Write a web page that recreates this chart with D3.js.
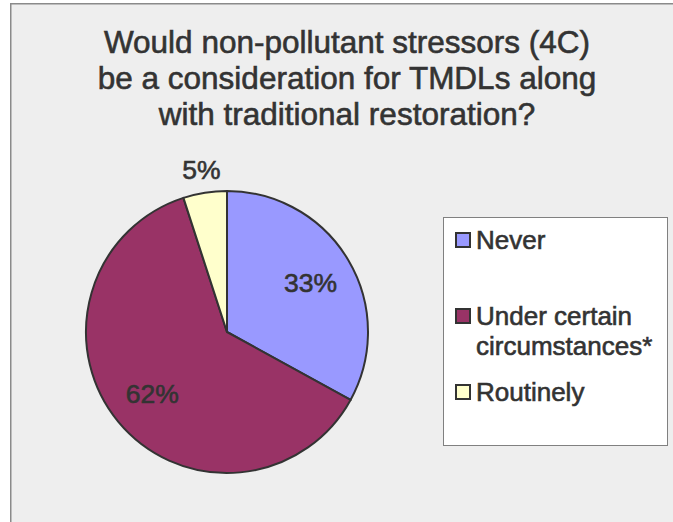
<!DOCTYPE html>
<html>
<head>
<meta charset="utf-8">
<script src="https://cdn.jsdelivr.net/npm/d3@7"></script>
<style>
  html, body { margin: 0; padding: 0; background: #ffffff; }
  svg { display: block; }
  text { font-family: "Liberation Sans", Arial, sans-serif; fill: #333333; stroke: #333333; stroke-width: 0.6px; }
</style>
</head>
<body>
<svg id="chart" width="673" height="522"></svg>
<script>
// Survey responses (percent of respondents)
const categories = ["Never", "Under certain circumstances*", "Routinely"];
const values = [33, 62, 5];
const legendLines = [["Never"], ["Under certain", "circumstances*"], ["Routinely"]];
const sliceColors = ["#9999FF", "#993366", "#FFFFCC"];
const titleLines = [
  "Would non-pollutant stressors (4C)",
  "be a consideration for TMDLs along",
  "with traditional restoration?"
];

const svg = d3.select("#chart");

// Chart area: light gray panel with a thin border
svg.append("rect")
  .attr("x", 10.75).attr("y", 3.75)
  .attr("width", 700).attr("height", 560)
  .attr("fill", "#EEEEEE")
  .attr("stroke", "#8a8a8a")
  .attr("stroke-width", 1.5);

// Title
svg.append("text")
  .attr("text-anchor", "middle")
  .attr("font-size", 31.5)
  .selectAll("tspan")
  .data(titleLines)
  .join("tspan")
  .attr("x", 347)
  .attr("y", (d, i) => 53 + i * 36)
  .text(d => d);

// Pie
const cx = 227, cy = 332, radius = 141;
const color = d3.scaleOrdinal().domain(categories).range(sliceColors);
const pie = d3.pie().sort(null).value(d => d.value);
const arcs = pie(categories.map((c, i) => ({ category: c, value: values[i] })));
const arc = d3.arc().innerRadius(0).outerRadius(radius);
const insideLabel = d3.arc().innerRadius(97).outerRadius(97);
const outsideLabel = d3.arc().innerRadius(164).outerRadius(164);

const g = svg.append("g").attr("transform", `translate(${cx},${cy})`);

g.selectAll("path")
  .data(arcs)
  .join("path")
  .attr("d", arc)
  .attr("fill", d => color(d.data.category))
  .attr("stroke", "#333333")
  .attr("stroke-width", 2)
  .attr("stroke-linejoin", "round");

g.selectAll("text.pct")
  .data(arcs)
  .join("text")
  .attr("class", "pct")
  .attr("text-anchor", "middle")
  .attr("dominant-baseline", "central")
  .attr("font-size", 26.5)
  .attr("transform", d => {
    const p = (d.data.value < 10 ? outsideLabel : insideLabel).centroid(d);
    return `translate(${p[0]},${p[1]})`;
  })
  .text(d => d.data.value + "%");

// Legend
const legend = svg.append("g");
legend.append("rect")
  .attr("x", 443.5).attr("y", 217.5)
  .attr("width", 224).attr("height", 228)
  .attr("fill", "#ffffff")
  .attr("stroke", "#808080")
  .attr("stroke-width", 1);

const rowY = d3.scalePoint().domain(categories).range([240, 392]);

const rows = legend.selectAll("g.row")
  .data(categories)
  .join("g")
  .attr("class", "row")
  .attr("transform", d => `translate(0,${rowY(d)})`);

rows.append("rect")
  .attr("x", 456).attr("y", -7)
  .attr("width", 14).attr("height", 14)
  .attr("fill", d => color(d))
  .attr("stroke", "#333333")
  .attr("stroke-width", 2);

rows.append("text")
  .attr("font-size", 26)
  .selectAll("tspan")
  .data((d, i) => legendLines[i])
  .join("tspan")
  .attr("x", 476)
  .attr("y", (d, i) => 9 + i * 30)
  .text(d => d);
</script>
</body>
</html>
